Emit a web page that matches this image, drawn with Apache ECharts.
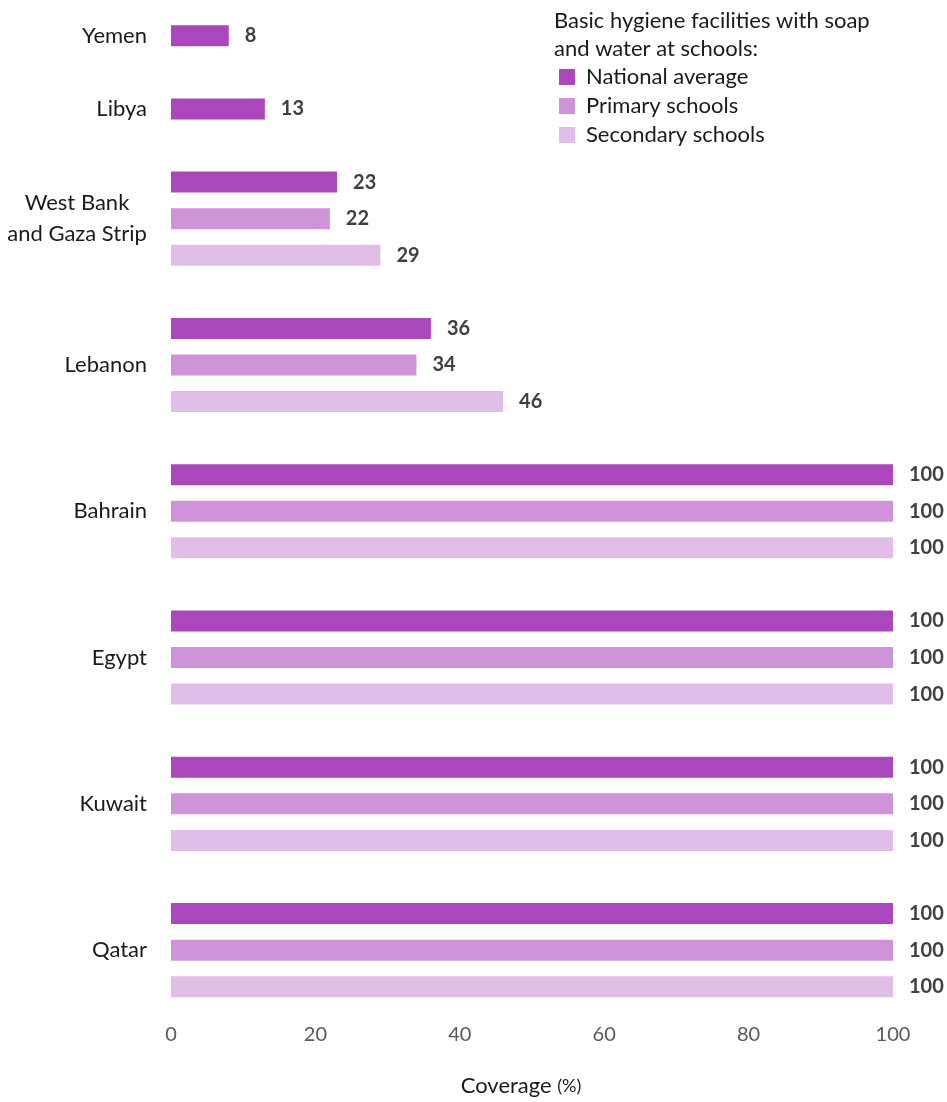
<!DOCTYPE html>
<html>
<head>
<meta charset="utf-8">
<script src="https://cdn.jsdelivr.net/npm/echarts@6/dist/echarts.min.js"></script>
<style>html,body{margin:0;padding:0;background:#fff;}#c{width:947px;height:1102px;}</style>
</head>
<body>
<div id="c"></div>
<script>
var countries = ['Yemen', 'Libya', 'West Bank\nand Gaza Strip', 'Lebanon', 'Bahrain', 'Egypt', 'Kuwait', 'Qatar'];
var national  = [8, 13, 23, 36, 100, 100, 100, 100];
var primary   = [null, null, 22, 34, 100, 100, 100, 100];
var secondary = [null, null, 29, 46, 100, 100, 100, 100];
var seriesNames = ['National average', 'Primary schools', 'Secondary schools'];
var xTicks = [0, 20, 40, 60, 80, 100];

var FONT = 'Lato, "Noto Sans", sans-serif';
var colors = ['#AB47BC', '#CE93D8', '#E1BEE7'];

// Build one axis row per bar, with an empty row between countries
var rowKeys = [], rowLabels = {}, sData = [[], [], []];
countries.forEach(function (c, i) {
  if (i > 0) {
    var gk = 'g' + i;
    rowKeys.push(gk); rowLabels[gk] = '';
    sData[0].push(null); sData[1].push(null); sData[2].push(null);
  }
  var vals = [national[i], primary[i], secondary[i]];
  var present = [];
  vals.forEach(function (v, s) { if (v !== null) present.push(s); });
  var mid = Math.floor(present.length / 2);
  present.forEach(function (s, k) {
    var key = 'r' + i + '_' + s;
    rowKeys.push(key);
    rowLabels[key] = (k === mid) ? c : '';
    for (var t = 0; t < 3; t++) sData[t].push(t === s ? vals[s] : null);
  });
});

var chart = echarts.init(document.getElementById('c'), null, {renderer: 'canvas'});
var series = seriesNames.map(function (n, s) {
  return {
    name: n,
    type: 'bar',
    data: sData[s],
    barWidth: 21,
    barGap: '-100%',
    itemStyle: {color: colors[s]},
    label: {
      show: true, position: 'right', distance: 16,
      fontFamily: FONT, fontSize: 20, fontWeight: 'bold', color: '#404040',
      formatter: function (p) { return p.value == null ? '' : String(p.value); }
    },
    emphasis: {disabled: true}
  };
});

chart.setOption({
  animation: false,
  title: {
    text: 'Basic hygiene facilities with soap\nand water at schools:',
    left: 549, top: 2,
    textStyle: {fontFamily: FONT, fontSize: 22, fontWeight: 'normal', color: '#1a1a1a', lineHeight: 28}
  },
  legend: {
    orient: 'vertical', left: 554, top: 61,
    icon: 'rect', itemWidth: 16, itemHeight: 16, itemGap: 7,
    data: seriesNames,
    selectedMode: false,
    textStyle: {fontFamily: FONT, fontSize: 22, color: '#1a1a1a', lineHeight: 22, padding: [0, 0, 0, 6]}
  },
  grid: {left: 171, width: 722, top: 17.5, height: 990, containLabel: false},
  xAxis: {
    type: 'value', min: 0, max: 100, interval: 20,
    axisLine: {show: false}, axisTick: {show: false}, splitLine: {show: false},
    axisLabel: {
      margin: 20, fontFamily: FONT, fontSize: 20, color: '#595959',
      customValues: xTicks
    },
    name: '{a|Coverage }{b|(%)}',
    nameLocation: 'middle', nameGap: 70,
    nameTextStyle: {
      padding: [0, 22, 0, 0],
      rich: {
        a: {fontFamily: FONT, fontSize: 22, color: '#1a1a1a'},
        b: {fontFamily: FONT, fontSize: 18, color: '#1a1a1a'}
      }
    }
  },
  yAxis: {
    type: 'category', inverse: true, data: rowKeys,
    axisLine: {show: false}, axisTick: {show: false}, splitLine: {show: false},
    axisLabel: {
      interval: 0, margin: 24, fontFamily: FONT, fontSize: 22, color: '#1a1a1a',
      formatter: function (v) {
        var t = rowLabels[v];
        if (!t) return '';
        if (t.indexOf('\n') >= 0) {
          return t.split('\n').map(function (l) { return '{c|' + l + '}'; }).join('\n');
        }
        return t;
      },
      rich: {c: {width: 140, align: 'center', fontFamily: FONT, fontSize: 22, color: '#1a1a1a', lineHeight: 31}}
    }
  },
  series: series
});
</script>
</body>
</html>
